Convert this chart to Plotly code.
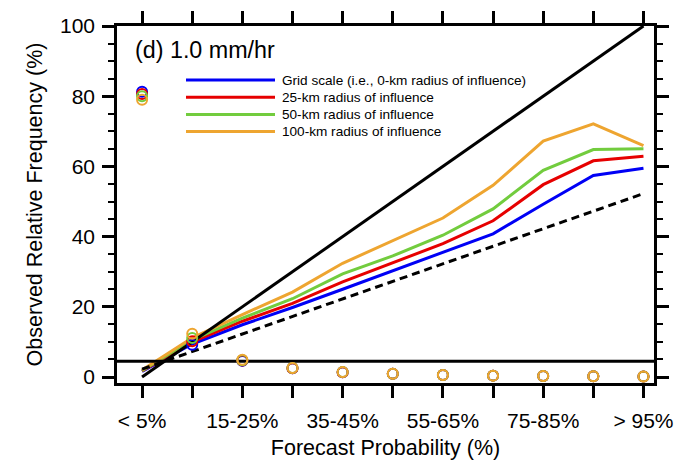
import plotly.graph_objects as go

# Forecast probability bins (index positions on the x axis)
bins = list(range(11))
bin_labels = ["< 5%", "5-15%", "15-25%", "25-35%", "35-45%", "45-55%",
              "55-65%", "65-75%", "75-85%", "85-95%", "> 95%"]
shown_labels = ["< 5%", "", "15-25%", "", "35-45%", "", "55-65%", "", "75-85%", "", "> 95%"]
forecast_prob = [0, 10, 20, 30, 40, 50, 60, 70, 80, 90, 100]

# Observed relative frequency (%) for each radius of influence
obs_grid = [1.6, 9.4, 14.9, 19.8, 25.0, 30.2, 35.5, 40.8, 49.2, 57.4, 59.5]
obs_25km = [1.7, 10.0, 15.9, 21.0, 27.1, 32.6, 38.0, 44.5, 54.8, 61.6, 62.9]
obs_50km = [1.8, 10.6, 16.8, 22.3, 29.4, 34.5, 40.4, 47.9, 58.9, 64.8, 65.0]
obs_100km = [2.0, 11.2, 17.8, 24.2, 32.4, 38.8, 45.3, 54.6, 67.2, 72.1, 65.9]

# Relative frequency of forecasts in each bin (%)
freq_grid = [81.3, 9.2, 4.6, 2.5, 1.35, 0.9, 0.6, 0.4, 0.3, 0.2, 0.15]
freq_25km = [80.6, 10.2, 4.7, 2.5, 1.35, 0.9, 0.6, 0.4, 0.3, 0.2, 0.15]
freq_50km = [80.0, 11.1, 4.8, 2.6, 1.4, 0.9, 0.6, 0.4, 0.3, 0.2, 0.15]
freq_100km = [79.0, 12.3, 4.9, 2.6, 1.4, 0.95, 0.6, 0.4, 0.3, 0.2, 0.15]

# Sample climatology (%)
climatology = 4.5

series_names = ["Grid scale (i.e., 0-km radius of influence)",
                "25-km radius of influence",
                "50-km radius of influence",
                "100-km radius of influence"]
series_colors = ["#0000F5", "#E60000", "#72CC3E", "#EEA530"]
series_obs = [obs_grid, obs_25km, obs_50km, obs_100km]
series_freq = [freq_grid, freq_25km, freq_50km, freq_100km]

x_range = [-0.5, 10.21]
y_range = [-1.7, 100]
FONT = "Liberation Sans"
TXT = 21
TITLE_TXT = 21.5

fig = go.Figure()

# Reliability curves
for name, color, obs in zip(series_names, series_colors, series_obs):
    fig.add_trace(go.Scatter(x=bins, y=obs, mode="lines", name=name,
                             line=dict(color=color, width=3), showlegend=False))

# Perfect reliability, no-skill and climatology reference lines
no_skill = [(p + climatology) / 2 for p in forecast_prob]
fig.add_trace(go.Scatter(x=bins, y=forecast_prob, mode="lines",
                         line=dict(color="black", width=3), showlegend=False))
fig.add_trace(go.Scatter(x=bins, y=no_skill, mode="lines",
                         line=dict(color="black", width=3, dash="8px,5px"), showlegend=False))
fig.add_trace(go.Scatter(x=x_range, y=[climatology, climatology], mode="lines",
                         line=dict(color="black", width=3), showlegend=False))

# Forecast frequency (sharpness) markers
for color, freq in zip(series_colors, series_freq):
    fig.add_trace(go.Scatter(x=bins, y=freq, mode="markers",
                             marker=dict(symbol="circle-open", size=10,
                                         color=color, line=dict(width=2, color=color)),
                             showlegend=False))

# Legend drawn inside the plot area
leg_y0 = 80
leg_dy = 17.2
for k, (name, color) in enumerate(zip(series_names, series_colors)):
    y_px = leg_y0 + k * leg_dy
    yp = 1 - (y_px - 26) / 357
    fig.add_shape(type="line", xref="paper", yref="paper",
                  x0=(186 - 117) / 537, x1=(275 - 117) / 537, y0=yp, y1=yp,
                  line=dict(color=color, width=3))
    fig.add_annotation(xref="paper", yref="paper", x=(280 - 117) / 537, y=yp,
                       text=name, showarrow=False, xanchor="left", yanchor="middle",
                       font=dict(family=FONT, size=13.6, color="black"))

fig.add_annotation(xref="paper", yref="paper", x=(133 - 117) / 537, y=1 - (50 - 26) / 357,
                   text="(d) 1.0 mm/hr", showarrow=False, xanchor="left", yanchor="middle",
                   font=dict(family=FONT, size=23.3, color="black"))

fig.update_layout(
    width=683, height=462,
    margin=dict(l=117, r=29, t=26, b=79, autoexpand=False),
    plot_bgcolor="white", paper_bgcolor="white",
    font=dict(family=FONT, size=TXT, color="black"),
    xaxis=dict(range=x_range, tickmode="array", tickvals=bins, ticktext=shown_labels,
               ticks="outside", ticklen=12, tickwidth=2.5, tickcolor="black",
               showline=True, linewidth=2.5, linecolor="black", mirror="allticks",
               showgrid=False, zeroline=False, ticklabelstandoff=5, automargin=False,
               title=dict(text="Forecast Probability (%)", standoff=9, font=dict(size=TITLE_TXT)),
               tickfont=dict(size=TXT)),
    yaxis=dict(range=y_range, tickmode="array", tickvals=[0, 20, 40, 60, 80, 100],
               ticks="outside", ticklen=12, tickwidth=2.5, tickcolor="black",
               minor=dict(tickvals=[5, 10, 15, 25, 30, 35, 45, 50, 55, 65, 70, 75, 85, 90, 95],
                          ticks="outside", ticklen=6, tickwidth=1.5, tickcolor="black"),
               showline=True, linewidth=2.5, linecolor="black", mirror="allticks",
               showgrid=False, zeroline=False, ticklabelstandoff=3, automargin=False,
               title=dict(text="Observed Relative Frequency (%)", standoff=12, font=dict(size=TITLE_TXT)),
               tickfont=dict(size=TXT)),
)

fig.write_html("out.html")
